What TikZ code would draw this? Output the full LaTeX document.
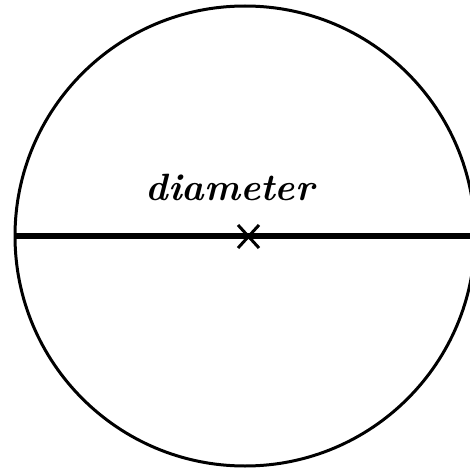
\documentclass[tikz,border=0pt]{standalone}
\begin{document}
\begin{tikzpicture}[x=1pt,y=-1pt,
  rim/.style={line width=3pt},
  diam/.style={line width=5.5pt},
  crossline/.style={line width=3pt},
  lbl/.style={font=\bfseries\itshape\fontsize{38}{38}\selectfont, inner sep=0pt}]
\useasboundingbox (0,0) rectangle (470,473);
\clip (0,0) rectangle (470,473);
\coordinate (c) at (245,236);
\draw[rim] (c) circle (230);
\coordinate (left) at (16,236);
\coordinate (right) at (472,236);
\draw[diam] (left) -- (right);
\draw[crossline] (238,225) -- (259,248) (259,225) -- (238,248);
\node[lbl] (t) at (230,187) {diameter};
\end{tikzpicture}
\end{document}
